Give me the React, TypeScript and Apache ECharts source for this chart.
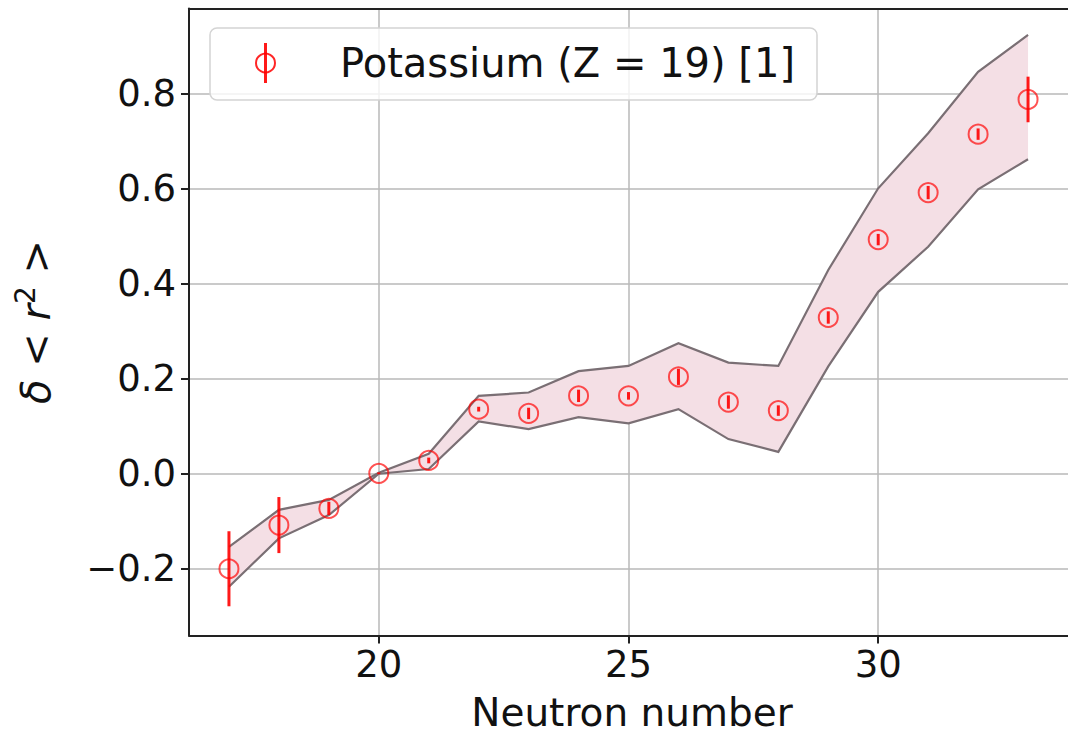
import React, { useEffect, useRef } from "react";
import * as echarts from "echarts";

const neutrons = [17, 18, 19, 20, 21, 22, 23, 24, 25, 26, 27, 28, 29, 30, 31, 32, 33];
const deltaR2 = [-0.201, -0.109, -0.074, 0.0, 0.027, 0.135, 0.126, 0.163, 0.163, 0.203, 0.15, 0.132, 0.328, 0.492, 0.591, 0.714, 0.787];
const deltaErr = [0.079, 0.059, 0.014, 0.002, 0.006, 0.005, 0.012, 0.013, 0.008, 0.017, 0.014, 0.011, 0.013, 0.012, 0.014, 0.012, 0.048];
const bandUpper = [-0.155, -0.077, -0.056, 0.001, 0.041, 0.163, 0.17, 0.215, 0.226, 0.274, 0.233, 0.226, 0.428, 0.6, 0.716, 0.845, 0.923];
const bandLower = [-0.239, -0.137, -0.088, -0.001, 0.009, 0.109, 0.093, 0.118, 0.105, 0.135, 0.072, 0.045, 0.225, 0.382, 0.477, 0.598, 0.661];
const xTicks = [20, 25, 30];
const yTicks = [-0.2, 0.0, 0.2, 0.4, 0.6, 0.8];
const legendLabel = "Potassium (Z = 19) [1]";
const xLabel = "Neutron number";

const FONT = "DejaVu Sans";

export default function App() {
  const ref = useRef<HTMLDivElement>(null);
  useEffect(() => {
    if (!ref.current) return;
    const chart = echarts.init(ref.current, undefined, { renderer: "svg" });
    const bandData = neutrons.map((n, i) => [n, bandLower[i], bandUpper[i]]);
    const pointData = neutrons.map((n, i) => [n, deltaR2[i]]);
    const errData = neutrons.map((n, i) => [n, deltaR2[i] - deltaErr[i], deltaR2[i] + deltaErr[i]]);
    const edge = "#7a6f74";
    const option: any = {
      animation: false,
      backgroundColor: "#ffffff",
      grid: { left: 189, right: -8, top: 8.5, bottom: 100.5, containLabel: false },
      xAxis: [
        {
          type: "value",
          min: 16.2,
          max: 33.8,
          axisLine: { show: true, onZero: false, lineStyle: { color: "#222", width: 2 } },
          axisTick: { show: true, length: 8, inside: false, customValues: xTicks, lineStyle: { color: "#222", width: 2 } },
          axisLabel: {
            customValues: xTicks,
            margin: 10,
            fontSize: 37,
            fontFamily: FONT,
            color: "#111",
          },
          splitLine: { show: true, lineStyle: { color: "#b8b8b8", width: 1.5 } },
        },
        {
          type: "value",
          position: "top",
          min: 16.2,
          max: 33.8,
          axisLine: { show: true, onZero: false, lineStyle: { color: "#222", width: 2 } },
          axisTick: { show: false },
          axisLabel: { show: false },
          splitLine: { show: false },
        },
      ],
      yAxis: {
        type: "value",
        min: -0.3415,
        max: 0.9785,
        axisLine: { show: true, onZero: false, lineStyle: { color: "#222", width: 2 } },
        axisTick: { show: true, length: 8, customValues: yTicks, lineStyle: { color: "#222", width: 2 } },
        axisLabel: {
          customValues: yTicks,
          margin: 13,
          fontSize: 37,
          fontFamily: FONT,
          color: "#111",
          formatter: (v: number) => (v < 0 ? "\u2212" + Math.abs(v).toFixed(1) : v.toFixed(1)),
        },
        splitLine: { show: true, lineStyle: { color: "#b8b8b8", width: 1.5 } },
      },
      series: [
        {
          type: "custom",
          name: "band",
          data: bandData,
          z: 1,
          clip: true,
          renderItem: (params: any, api: any) => {
            if (params.dataIndex !== 0) return null;
            const upperPts = bandData.map((d) => api.coord([d[0], d[2]]));
            const lowerPts = bandData.map((d) => api.coord([d[0], d[1]]));
            const poly = upperPts.concat(lowerPts.slice().reverse());
            return {
              type: "group",
              children: [
                {
                  type: "polygon",
                  shape: { points: poly },
                  style: { fill: "#f4dfe5", stroke: "none" },
                },
                {
                  type: "polyline",
                  shape: { points: upperPts },
                  style: { fill: "none", stroke: edge, lineWidth: 2.2 },
                },
                {
                  type: "polyline",
                  shape: { points: lowerPts },
                  style: { fill: "none", stroke: edge, lineWidth: 2.2 },
                },
              ],
            };
          },
        },
        {
          type: "custom",
          name: "err",
          data: errData,
          z: 4,
          renderItem: (params: any, api: any) => {
            const x = api.value(0);
            const p1 = api.coord([x, api.value(1)]);
            const p2 = api.coord([x, api.value(2)]);
            return {
              type: "line",
              shape: { x1: p1[0], y1: p1[1], x2: p2[0], y2: p2[1] },
              style: { stroke: "rgba(255,0,0,0.9)", lineWidth: 3 },
            };
          },
        },
        {
          type: "scatter",
          name: legendLabel,
          data: pointData,
          symbol: "circle",
          symbolSize: 19,
          z: 5,
          itemStyle: { color: "rgba(0,0,0,0)", borderColor: "rgba(255,0,0,0.85)", borderWidth: 2 },
        },
      ],
      graphic: [
        {
          type: "rect",
          z: 100,
          shape: { x: 210, y: 28, width: 607, height: 72, r: 7 },
          style: { fill: "rgba(255,255,255,0.8)", stroke: "#d4d4d4", lineWidth: 1.5 },
        },
        {
          type: "line",
          z: 101,
          shape: { x1: 265.5, y1: 43, x2: 265.5, y2: 83 },
          style: { stroke: "rgba(255,0,0,0.9)", lineWidth: 3 },
        },
        {
          type: "circle",
          z: 102,
          shape: { cx: 265.5, cy: 63, r: 9.5 },
          style: { fill: "none", stroke: "rgba(255,0,0,0.85)", lineWidth: 2 },
        },
        {
          type: "text",
          z: 102,
          x: 340,
          y: 63,
          style: {
            text: legendLabel,
            fontSize: 40,
            fontFamily: FONT,
            fill: "#111",
            align: "left",
            verticalAlign: "middle",
          },
        },
        {
          type: "text",
          z: 50,
          x: 632,
          y: 712,
          style: {
            text: xLabel,
            fontSize: 39,
            lineHeight: 34,
            fontFamily: FONT,
            fill: "#111",
            align: "center",
            verticalAlign: "middle",
          },
        },
        {
          type: "text",
          z: 50,
          x: 36,
          y: 322,
          rotation: Math.PI / 2,
          style: {
            text: "{i|\u03b4}{n| < }{i|r}{s|2}{n| >}",
            fontSize: 40,
            fontFamily: FONT,
            fill: "#111",
            align: "center",
            verticalAlign: "middle",
            rich: {
              i: { fontSize: 40, fontStyle: "italic", fontFamily: FONT, fill: "#111", lineHeight: 46 },
              n: { fontSize: 40, fontFamily: FONT, fill: "#111", lineHeight: 46 },
              s: { fontSize: 28, fontFamily: FONT, fill: "#111", padding: [0, 0, 22, 0], lineHeight: 28 },
            },
          },
        },
      ],
    };
    chart.setOption(option);
    return () => chart.dispose();
  }, []);
  return (
    <div
      ref={ref}
      style={{ position: "absolute", left: 0, top: 0, width: 1068, height: 736, background: "#fff" }}
    />
  );
}
